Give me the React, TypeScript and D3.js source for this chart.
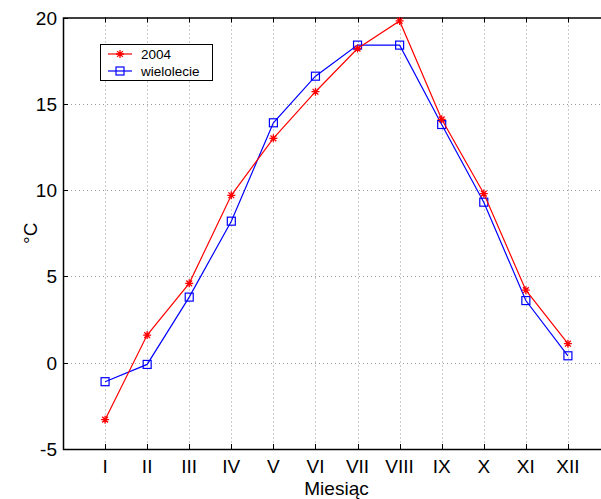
import React, { useEffect, useRef } from 'react';
import * as d3 from 'd3';

const months = ['I', 'II', 'III', 'IV', 'V', 'VI', 'VII', 'VIII', 'IX', 'X', 'XI', 'XII'];
const y2004 = [-3.3, 1.6, 4.6, 9.7, 13.0, 15.7, 18.2, 19.8, 14.1, 9.8, 4.2, 1.1];
const wielolecie = [-1.1, -0.1, 3.8, 8.2, 13.9, 16.6, 18.4, 18.4, 13.8, 9.3, 3.6, 0.4];
const yTicks = [-5, 0, 5, 10, 15, 20];

const App = () => {
  const svgRef = useRef<SVGSVGElement>(null);

  useEffect(() => {
    const width = 601;
    const height = 499;
    const left = 63;
    const right = 610;
    const top = 17.5;
    const bottom = 449;
    const font = 'Liberation Sans, Arial, Helvetica, sans-serif';

    const svg = d3.select(svgRef.current)
      .attr('width', width)
      .attr('height', height);

    svg.selectAll('*').remove();

    const x = d3.scaleLinear().domain([0, 13]).range([left, right]);
    const y = d3.scaleLinear().domain([-5, 20]).range([bottom, top]);

    svg.append('rect')
      .attr('width', width)
      .attr('height', height)
      .attr('fill', '#fff');

    // grid
    const grid = svg.append('g')
      .attr('stroke', '#999')
      .attr('stroke-width', 1)
      .attr('stroke-dasharray', '1 3');
    months.forEach((m, i) => {
      grid.append('line')
        .attr('x1', Math.round(x(i + 1)) + 0.5)
        .attr('x2', Math.round(x(i + 1)) + 0.5)
        .attr('y1', top)
        .attr('y2', bottom);
    });
    yTicks.slice(1, -1).forEach(t => {
      grid.append('line')
        .attr('x1', left)
        .attr('x2', right)
        .attr('y1', Math.round(y(t)) + 0.5)
        .attr('y2', Math.round(y(t)) + 0.5);
    });

    // axes box (right edge out of view)
    svg.append('rect')
      .attr('x', left + 0.5)
      .attr('y', top + 0.5)
      .attr('width', right - left)
      .attr('height', bottom - top)
      .attr('fill', 'none')
      .attr('stroke', '#000')
      .attr('stroke-width', 1.5);

    const ticks = svg.append('g').attr('stroke', '#000').attr('stroke-width', 1);
    months.forEach((m, i) => {
      const xx = Math.round(x(i + 1)) + 0.5;
      ticks.append('line').attr('x1', xx).attr('x2', xx).attr('y1', bottom).attr('y2', bottom - 5);
      ticks.append('line').attr('x1', xx).attr('x2', xx).attr('y1', top).attr('y2', top + 5);
    });
    yTicks.forEach(t => {
      const yy = Math.round(y(t)) + 0.5;
      ticks.append('line').attr('x1', left).attr('x2', left + 5).attr('y1', yy).attr('y2', yy);
    });

    // tick labels
    svg.append('g')
      .selectAll('text')
      .data(months)
      .join('text')
      .attr('x', (d, i) => x(i + 1))
      .attr('y', 473)
      .attr('text-anchor', 'middle')
      .attr('font-family', font)
      .attr('font-size', 19)
      .text(d => d);

    svg.append('g')
      .selectAll('text')
      .data(yTicks)
      .join('text')
      .attr('x', 57)
      .attr('y', d => y(d) + 7)
      .attr('text-anchor', 'end')
      .attr('font-family', font)
      .attr('font-size', 19)
      .text(d => d);

    // axis labels
    svg.append('text')
      .attr('x', (left + right) / 2)
      .attr('y', 495)
      .attr('text-anchor', 'middle')
      .attr('font-family', font)
      .attr('font-size', 19)
      .text('Miesiąc');

    svg.append('text')
      .attr('transform', `translate(37, ${(top + bottom) / 2}) rotate(-90)`)
      .attr('text-anchor', 'middle')
      .attr('font-family', font)
      .attr('font-size', 19)
      .text('°C');

    const line = d3.line<number>()
      .x((d, i) => x(i + 1))
      .y(d => y(d));

    const star = (g: any, cx: number, cy: number, color: string) => {
      const r = 4;
      const d = r * 0.72;
      const p = `M${cx - r},${cy}L${cx + r},${cy}M${cx},${cy - r}L${cx},${cy + r}` +
        `M${cx - d},${cy - d}L${cx + d},${cy + d}M${cx - d},${cy + d}L${cx + d},${cy - d}`;
      g.append('path').attr('d', p).attr('stroke', color).attr('stroke-width', 1.3).attr('fill', 'none');
    };
    const square = (g: any, cx: number, cy: number, color: string) => {
      g.append('rect')
        .attr('x', cx - 4).attr('y', cy - 4)
        .attr('width', 8).attr('height', 8)
        .attr('fill', 'none').attr('stroke', color).attr('stroke-width', 1.2);
    };

    svg.append('path')
      .datum(wielolecie)
      .attr('fill', 'none')
      .attr('stroke', '#0000ff')
      .attr('stroke-width', 1.2)
      .attr('d', line);
    const gb = svg.append('g');
    wielolecie.forEach((v, i) => square(gb, x(i + 1), y(v), '#0000ff'));

    svg.append('path')
      .datum(y2004)
      .attr('fill', 'none')
      .attr('stroke', '#ff0000')
      .attr('stroke-width', 1.2)
      .attr('d', line);
    const gr = svg.append('g');
    y2004.forEach((v, i) => star(gr, x(i + 1), y(v), '#ff0000'));

    // legend
    const lg = svg.append('g');
    lg.append('rect')
      .attr('x', 100.5).attr('y', 44.5)
      .attr('width', 112).attr('height', 36)
      .attr('fill', '#fff').attr('stroke', '#000').attr('stroke-width', 1);
    const entries = [
      { label: '2004', color: '#ff0000', kind: 'star', yy: 54 },
      { label: 'wielolecie', color: '#0000ff', kind: 'square', yy: 71 },
    ];
    entries.forEach(e => {
      lg.append('line')
        .attr('x1', 108).attr('x2', 132)
        .attr('y1', e.yy).attr('y2', e.yy)
        .attr('stroke', e.color).attr('stroke-width', 1.2);
      if (e.kind === 'star') star(lg, 120, e.yy, e.color);
      else square(lg, 120, e.yy, e.color);
      lg.append('text')
        .attr('x', 141).attr('y', e.yy + 4.5)
        .attr('font-family', font)
        .attr('font-size', 13.5)
        .text(e.label);
    });
  }, []);

  return (
    <svg ref={svgRef} style={{ position: 'absolute', left: 0, top: 0 }}></svg>
  );
};

export default App;
